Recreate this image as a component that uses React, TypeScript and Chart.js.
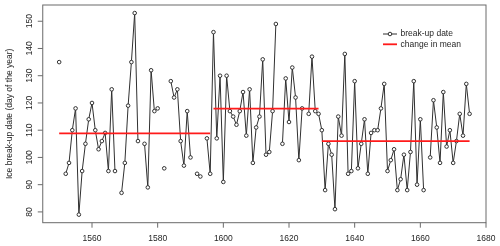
import React, { useEffect, useRef } from "react";
import { Chart, registerables } from "chart.js";

Chart.register(...registerables);

// ---- data ----
const FIRST_YEAR = 1550;
const breakupDates: (number | null)[] = [
  135, null, 94, 98, 110, 118, 79, 95, 105, 114, // 1550-1559
  120, 110, 103, 106, 109, 95, 125, 95, null, 87, // 1560-1569
  98, 119, 135, 153, 106, null, 105, 89, 132, 117, // 1570-1579
  118, null, 96, null, 128, 122, 125, 106, 97, 117, // 1580-1589
  100, null, 94, 93, null, 107, 94, 146, 107, 130, // 1590-1599
  91, 130, 117, 115, 112, 117, 124, 108, 125, 98, // 1600-1609
  111, 115, 136, 101, 102, 117, 149, null, 105, 129, // 1610-1619
  113, 133, 122, 99, 118, null, 116, 137, 117, 116, // 1620-1629
  110, 88, 105, 101, 81, 115, 108, 138, 94, 95, // 1630-1639
  128, 96, 105, 114, 94, 109, 110, 110, 118, 127, // 1640-1649
  95, 99, 103, 88, 92, 101, 88, 102, 128, 90, // 1650-1659
  114, 88, null, 100, 121, 111, 98, 124, 104, 110, // 1660-1669
  98, 106, 116, 108, 127, 116, // 1670-1675
];
const years = breakupDates.map((_, i) => FIRST_YEAR + i);

const meanStart = [1550, 1597, 1630];
const meanEnd = [1596, 1629, 1675];
const meanValue = [108.8, 117.9, 106.0];

const xTicks = [1560, 1580, 1600, 1620, 1640, 1660, 1680];
const yTicks = [80, 90, 100, 110, 120, 130, 140, 150];
const xRange = [1545, 1680];
const yRange = [76.04, 155.96];

const yTitle = "Ice break-up date (day of the year)";
const legendLabels = ["break-up date", "change in mean"];

const FONT = '"Liberation Sans", Arial, Helvetica, sans-serif';
const LINE_COLOR = "#303030";
const MEAN_COLOR = "#ff1a1a";
const AXIS_COLOR = "#6a6a6a";
const TEXT_COLOR = "#262626";

const rAxesPlugin = {
  id: "rAxes",
  afterDraw(chart: any) {
    const { ctx, chartArea } = chart;
    const { left, right, top, bottom } = chartArea;
    const xs = chart.scales.x;
    const ys = chart.scales.y;
    ctx.save();
    // box
    ctx.strokeStyle = AXIS_COLOR;
    ctx.lineWidth = 1;
    ctx.strokeRect(left, top, right - left, bottom - top);

    ctx.font = `8.5px ${FONT}`;
    ctx.fillStyle = TEXT_COLOR;

    // x ticks
    ctx.textAlign = "center";
    ctx.textBaseline = "middle";
    xTicks.forEach((v) => {
      const px = xs.getPixelForValue(v);
      ctx.beginPath();
      ctx.moveTo(px, bottom);
      ctx.lineTo(px, bottom + 5);
      ctx.stroke();
      ctx.fillText(String(v), px, bottom + 15.5);
    });

    // y ticks
    yTicks.forEach((v) => {
      const py = ys.getPixelForValue(v);
      ctx.beginPath();
      ctx.moveTo(left, py);
      ctx.lineTo(left - 5, py);
      ctx.stroke();
      ctx.save();
      ctx.translate(left - 13.5, py);
      ctx.rotate(-Math.PI / 2);
      ctx.fillText(String(v), 0, 0);
      ctx.restore();
    });

    // y title
    ctx.save();
    ctx.translate(10, (top + bottom) / 2);
    ctx.rotate(-Math.PI / 2);
    ctx.fillText(yTitle, 0, 0);
    ctx.restore();

    // legend
    const lx0 = 383;
    const lx1 = 397;
    const ly = [34, 44.3];
    ctx.textAlign = "left";
    ctx.strokeStyle = LINE_COLOR;
    ctx.lineWidth = 1;
    ctx.beginPath();
    ctx.moveTo(lx0, ly[0]);
    ctx.lineTo(lx1, ly[0]);
    ctx.stroke();
    ctx.beginPath();
    ctx.arc((lx0 + lx1) / 2, ly[0], 1.8, 0, Math.PI * 2);
    ctx.fillStyle = "#ffffff";
    ctx.fill();
    ctx.stroke();
    ctx.strokeStyle = MEAN_COLOR;
    ctx.lineWidth = 1.8;
    ctx.beginPath();
    ctx.moveTo(lx0, ly[1]);
    ctx.lineTo(lx1, ly[1]);
    ctx.stroke();
    ctx.fillStyle = TEXT_COLOR;
    ctx.fillText(legendLabels[0], 400.5, ly[0]);
    ctx.fillText(legendLabels[1], 400.5, ly[1]);
    ctx.restore();
  },
};

export default function App() {
  const ref = useRef<HTMLCanvasElement | null>(null);

  useEffect(() => {
    if (!ref.current) return;
    const meanSets = meanValue.map((v, i) => ({
      label: i === 0 ? legendLabels[1] : "",
      data: [
        { x: meanStart[i], y: v },
        { x: meanEnd[i], y: v },
      ],
      borderColor: MEAN_COLOR,
      borderWidth: 1.8,
      pointRadius: 0,
      fill: false,
      order: 0,
    }));
    const chart = new Chart(ref.current, {
      type: "line",
      data: {
        datasets: [
          {
            label: legendLabels[0],
            data: years.map((yr, i) => ({ x: yr, y: breakupDates[i] })),
            borderColor: LINE_COLOR,
            borderWidth: 1,
            pointRadius: 1.8,
            pointBorderWidth: 1,
            pointBorderColor: LINE_COLOR,
            pointBackgroundColor: "#ffffff",
            spanGaps: false,
            fill: false,
            tension: 0,
            order: 1,
          } as any,
          ...meanSets,
        ],
      },
      options: {
        animation: false,
        responsive: false,
        devicePixelRatio: 1,
        layout: { padding: { left: 42.75, right: 14, top: 4.3, bottom: 23.3 } },
        plugins: { legend: { display: false }, tooltip: { enabled: false } },
        scales: {
          x: { type: "linear", min: xRange[0], max: xRange[1], display: false },
          y: { type: "linear", min: yRange[0], max: yRange[1], display: false },
        },
      },
      plugins: [rAxesPlugin],
    });
    return () => chart.destroy();
  }, []);

  return (
    <div style={{ position: "fixed", left: 0, top: 0, width: 500, height: 246, background: "#fff" }}>
      <canvas ref={ref} width={500} height={246} style={{ width: 500, height: 246, display: "block" }} />
    </div>
  );
}
